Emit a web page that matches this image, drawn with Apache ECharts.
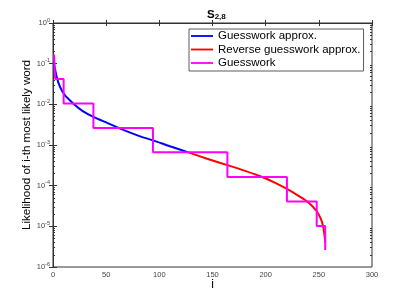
<!DOCTYPE html>
<html><head><meta charset="utf-8">
<script src="https://cdn.jsdelivr.net/npm/echarts@6/dist/echarts.min.js"></script>
<style>html,body{margin:0;padding:0;background:#fff}#c{width:411px;height:300px}</style>
</head><body><div id="c"></div>
<script>
// Data
const stepX = [1, 2, 10, 38, 94, 164, 220, 248, 256];
const stepY = [0.168, 0.042, 0.0105, 0.0026, 0.00066, 0.000164, 0.000041, 0.0000102, 0.0000026];
const approxX = [1, 3.5, 6.6, 11, 19, 28, 38, 52, 62, 80, 94, 110, 128];
const approxY = [0.10, 0.047, 0.027, 0.017, 0.0105, 0.0068, 0.0049, 0.0034, 0.0026, 0.0017, 0.0013, 0.00093, 0.00065];
const reverseX = [128, 145, 164, 180, 195, 208, 220, 232, 240, 248, 252, 254, 255.5, 256];
const reverseY = [0.00065, 0.00046, 0.00032, 0.000234, 0.00017, 0.00012, 0.000083, 0.000054, 0.000039, 0.0000235, 0.000015, 0.00001, 0.0000056, 0.000004];
const xTicks = [0, 50, 100, 150, 200, 250, 300];
const seriesNames = ['Guesswork approx.', 'Reverse guesswork approx.', 'Guesswork'];

const zip = (xs, ys) => xs.map((x, i) => [x, ys[i]]);
const minorTicks = [];
for (let d = -6; d < 0; d++) for (let k = 2; k <= 9; k++) minorTicks.push(d + Math.log10(k));

const FONT = '"Liberation Sans", Arial, Helvetica, sans-serif';
const axisCol = '#333';
const chart = echarts.init(document.getElementById('c'), null, {renderer: 'canvas'});
const grid = {left: 53, right: 39, top: 23, bottom: 33, show: true, borderColor: axisCol, borderWidth: 1, backgroundColor: 'transparent'};

const lineOn = {show: true, lineStyle: {color: axisCol, width: 1}};
const lineOff = {show: false};
chart.setOption({
  animation: false,
  textStyle: {fontFamily: FONT},
  title: {
    text: '{b|S}{s|2,8}', left: 202, top: 2,
    textStyle: {rich: {
      b: {fontFamily: FONT, fontSize: 11.5, fontWeight: 'bold', color: '#000', verticalAlign: 'bottom'},
      s: {fontFamily: FONT, fontSize: 8, fontWeight: 'bold', color: '#000', padding: [6, 0, 0, 0], verticalAlign: 'bottom'}
    }}
  },
  legend: {
    orient: 'vertical', left: 189, top: 29,
    data: seriesNames,
    itemWidth: 22, itemHeight: 12, itemGap: 1.5,
    padding: [1, 3, 2, 2],
    borderColor: '#333', borderWidth: 0.8, backgroundColor: '#fff',
    textStyle: {fontFamily: FONT, fontSize: 11.5, color: '#000'},
    icon: 'path://M0,5 L24,5 L24,7 L0,7 Z'
  },
  grid: grid,
  xAxis: [
    {type: 'value', min: 0, max: 300, interval: 50, position: 'bottom',
     name: 'i', nameLocation: 'middle', nameGap: 12, nameMoveOverlap: false,
     nameTextStyle: {fontFamily: FONT, fontSize: 12, color: '#000'},
     axisLine: lineOn,
     axisTick: {show: true, inside: true, length: 3, lineStyle: {color: axisCol}},
     axisLabel: {fontFamily: FONT, fontSize: 7.5, color: '#444', margin: 4},
     splitLine: {show: false}},
    {type: 'value', min: 0, max: 300, interval: 50, position: 'top',
     axisLine: lineOn,
     axisTick: {show: true, inside: true, length: 3, lineStyle: {color: axisCol}},
     axisLabel: {show: false}, splitLine: {show: false}}
  ],
  yAxis: [
    {type: 'log', logBase: 10, min: 1e-6, max: 1, position: 'left',
     splitNumber: 6,
     name: 'Likelihood of i-th most likely word', nameLocation: 'middle', nameGap: 20, nameMoveOverlap: false,
     nameTextStyle: {fontFamily: FONT, fontSize: 11.6, color: '#000'},
     axisLine: lineOn,
     axisTick: {show: true, inside: true, length: 4, lineStyle: {color: axisCol}},
     axisLabel: {
       fontFamily: FONT, fontSize: 7.5, color: '#444', margin: 3,
       formatter: v => '10{s|' + Math.round(Math.log10(v)) + '}',
       rich: {s: {fontFamily: FONT, fontSize: 5.5, color: '#444', padding: [0, 0, 6, 0]}}
     },
     splitLine: {show: false}},
    {type: 'log', logBase: 10, min: 1e-6, max: 1, position: 'right', splitNumber: 6,
     axisLine: lineOn,
     axisTick: {show: true, inside: true, length: 4, lineStyle: {color: axisCol}},
     axisLabel: {show: false}, splitLine: {show: false}},
    {type: 'value', min: -6, max: 0, position: 'left',
     axisLine: lineOff, axisLabel: {show: false}, splitLine: {show: false},
     axisTick: {show: true, inside: true, length: 2, customValues: minorTicks, lineStyle: {color: axisCol}}},
    {type: 'value', min: -6, max: 0, position: 'right',
     axisLine: lineOff, axisLabel: {show: false}, splitLine: {show: false},
     axisTick: {show: true, inside: true, length: 2, customValues: minorTicks, lineStyle: {color: axisCol}}}
  ],
  series: [
    {name: seriesNames[0], type: 'line', xAxisIndex: 0, yAxisIndex: 0, data: zip(approxX, approxY),
     smooth: 0.3, symbol: 'none', lineStyle: {color: '#0000ff', width: 2}, itemStyle: {color: '#0000ff'}, z: 3},
    {name: seriesNames[1], type: 'line', xAxisIndex: 0, yAxisIndex: 0, data: zip(reverseX, reverseY),
     smooth: 0.3, symbol: 'none', lineStyle: {color: '#ff0000', width: 2}, itemStyle: {color: '#ff0000'}, z: 3},
    {name: seriesNames[2], type: 'line', xAxisIndex: 0, yAxisIndex: 0, data: zip(stepX, stepY),
     step: 'end', symbol: 'none', lineStyle: {color: '#ff00ff', width: 2}, itemStyle: {color: '#ff00ff'}, z: 4}
  ]
});
</script></body></html>
